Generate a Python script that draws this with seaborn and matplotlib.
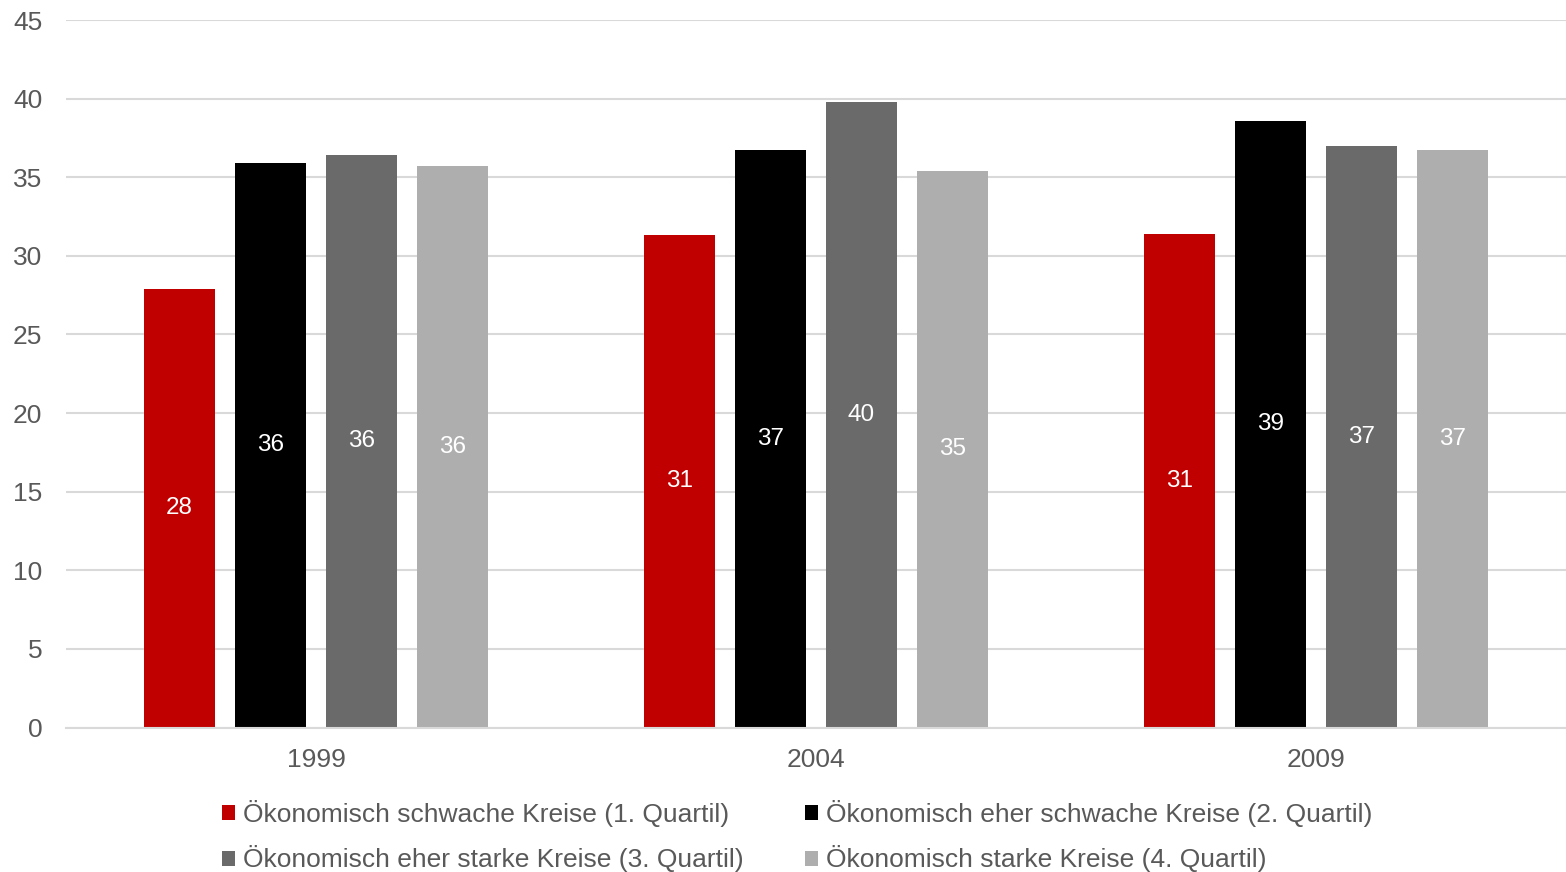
import matplotlib
matplotlib.use("Agg")
import matplotlib.pyplot as plt
from matplotlib.patches import Patch
import seaborn as sns
import pandas as pd

# Anteil je Jahr und ökonomischer Kreisgruppe
jahre = ["1999", "2004", "2009"]
gruppen = [
    "Ökonomisch schwache Kreise (1. Quartil)",
    "Ökonomisch eher schwache Kreise (2. Quartil)",
    "Ökonomisch eher starke Kreise (3. Quartil)",
    "Ökonomisch starke Kreise (4. Quartil)",
]
q1 = [27.9, 31.3, 31.4]
q2 = [35.9, 36.7, 38.6]
q3 = [36.4, 39.8, 37.0]
q4 = [35.7, 35.4, 36.7]
farben = ["#C00000", "#000000", "#6A6A6A", "#AEAEAE"]

rows = []
for g, werte in zip(gruppen, [q1, q2, q3, q4]):
    for j, w in zip(jahre, werte):
        rows.append({"Jahr": j, "Gruppe": g, "Wert": w})
df = pd.DataFrame(rows)

sns.set_theme(style="white")
plt.rcParams["font.family"] = ["Liberation Sans", "DejaVu Sans"]

fig = plt.figure(figsize=(15.66, 8.72), dpi=100)
ax = fig.add_axes([66 / 1566, 1 - 727.5 / 872, 1 - 66 / 1566, (727.5 - 20) / 872])

sns.barplot(data=df, x="Jahr", y="Wert", hue="Gruppe", hue_order=gruppen,
            order=jahre, palette=farben, saturation=1, width=0.728, gap=0.214,
            edgecolor="none", linewidth=0, ax=ax, legend=False)

for cont in ax.containers:
    labels = [f"{int(b.get_height() + 0.5):d}" for b in cont]
    ax.bar_label(cont, labels=labels, label_type="center", color="white",
                 fontsize=17.5)

ax.set_xlim(-0.5, 2.5)
ax.set_ylim(0, 45)
ax.set_yticks(range(0, 46, 5))
ax.yaxis.grid(True, color="#D9D9D9", linewidth=1.5)
ax.set_axisbelow(True)
for s in ["top", "right", "left"]:
    ax.spines[s].set_visible(False)
ax.spines["bottom"].set_color("#D9D9D9")
ax.spines["bottom"].set_linewidth(1.5)
ax.set_xlabel("")
ax.set_ylabel("")
ax.tick_params(axis="y", length=0, pad=17, labelsize=19, labelcolor="#595959")
ax.tick_params(axis="x", length=0, pad=15, labelsize=19, labelcolor="#595959")

# legend filled row by row: (1, 2) on top, (3, 4) below
order = [0, 2, 1, 3]
handles = [Patch(facecolor=farben[i], edgecolor="none") for i in order]
labels = [gruppen[i] for i in order]
fig.legend(handles, labels, loc="center", bbox_to_anchor=(0.509, 0.041),
           ncol=2, frameon=False, fontsize=19, labelcolor="#595959",
           handlelength=0.5, handleheight=0.5, handletextpad=0.3,
           columnspacing=2.3, labelspacing=0.7, borderpad=0)

fig.savefig("out.png", dpi=100)
